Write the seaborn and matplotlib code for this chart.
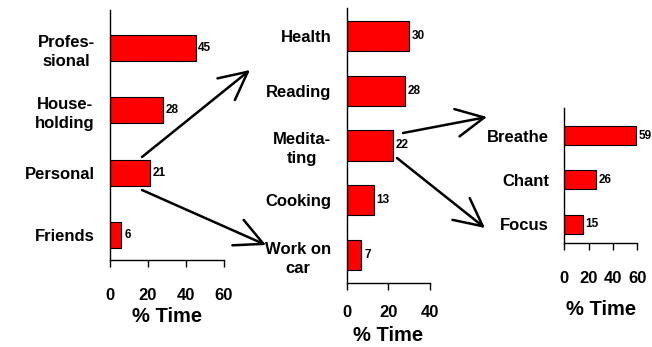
import numpy as np
import pandas as pd
import matplotlib
matplotlib.use('Agg')
import matplotlib.pyplot as plt
from matplotlib.patches import FancyArrowPatch
import seaborn as sns

sns.set_style('ticks')
plt.rcParams['font.family'] = ['Liberation Sans', 'DejaVu Sans']
plt.rcParams['font.weight'] = 'bold'
plt.rcParams['text.color'] = 'black'
plt.rcParams['axes.labelcolor'] = 'black'
plt.rcParams['xtick.color'] = 'black'
plt.rcParams['ytick.color'] = 'black'

# data
top_cats = ['Profes-\nsional', 'House-\nholding', 'Personal', 'Friends']
top_vals = [45, 28, 21, 6]
top_ticks = [0, 20, 40, 60]

personal_cats = ['Health', 'Reading', 'Medita-\nting', 'Cooking', 'Work on\ncar']
personal_vals = [30, 28, 22, 13, 7]
personal_ticks = [0, 20, 40]

medit_cats = ['Breathe', 'Chant', 'Focus']
medit_vals = [59, 26, 15]
medit_ticks = [0, 20, 40, 60]

W, H = 652, 347
fig = plt.figure(figsize=(W / 100, H / 100), dpi=100)


def px_rect(x0, x1, ytop, ybot):
    return [x0 / W, 1 - ybot / H, (x1 - x0) / W, (ybot - ytop) / H]


def panel(rect, cats, vals, ticks, barw, ylim, pad, lpad):
    ax = fig.add_axes(rect)
    df = pd.DataFrame({'cat': cats, 'val': vals})
    sns.barplot(data=df, x='val', y='cat', order=cats, orient='h', color='#ff0000',
                saturation=1, edgecolor='black', linewidth=0.8, width=barw, ax=ax)
    ax.set_xlim(ticks[0], ticks[-1])
    ax.set_ylim(*ylim)
    ax.set_xticks(ticks)
    ax.set_ylabel('')
    ax.set_xlabel('% Time', fontsize=14.5, fontweight='bold', labelpad=lpad, color='black')
    sns.despine(ax=ax)
    for s in ['left', 'bottom']:
        ax.spines[s].set_color('black')
        ax.spines[s].set_linewidth(1.0)
    ax.tick_params(axis='x', direction='out', length=5, width=1, colors='black',
                   labelsize=12, pad=pad)
    ax.tick_params(axis='y', length=0, labelsize=12, pad=11, colors='black')
    for lab in ax.get_yticklabels():
        lab.set_multialignment('center')
        lab.set_linespacing(1.35)
        lab.set_fontweight('bold')
    for lab in ax.get_xticklabels():
        lab.set_fontweight('bold')
    for c in ax.containers:
        ax.bar_label(c, fontsize=8.5, fontweight='bold', padding=2, color='black')
    return ax


ax1 = panel(px_rect(110, 224, 10, 260), top_cats, top_vals, top_ticks,
            0.42, (3.4, -0.61), 15, 3)
ax2 = panel(px_rect(346.7, 430, 8, 283), personal_cats, personal_vals, personal_ticks,
            0.55, (4.51, -0.51), 11, 4.5)
ax3 = panel(px_rect(564.3, 637.3, 108, 243), medit_cats, medit_vals, medit_ticks,
            0.43, (2.42, -0.62), 15, 10.5)


def arrow(p0, p1):
    a = FancyArrowPatch((p0[0] / W, 1 - p0[1] / H), (p1[0] / W, 1 - p1[1] / H),
                        transform=fig.transFigure, arrowstyle='->,head_length=1.0,head_width=0.5',
                        mutation_scale=20, color='black', linewidth=1.8,
                        shrinkA=0, shrinkB=0)
    fig.patches.append(a)


arrow((142, 157), (250, 70))
arrow((142, 190), (266, 245))
arrow((403, 133), (487, 117))
arrow((397, 158), (485, 228))

fig.savefig('out.png', dpi=100)
